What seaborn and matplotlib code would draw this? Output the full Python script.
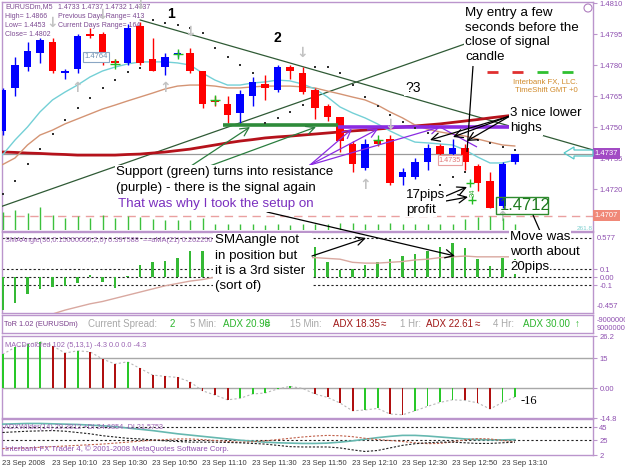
import numpy as np
import pandas as pd
import matplotlib
matplotlib.use("Agg")
import matplotlib.pyplot as plt
import seaborn as sns
from matplotlib.transforms import Affine2D, blended_transform_factory
from matplotlib.patches import Rectangle, Polygon, Circle

sns.set_theme(style="white")
plt.rcParams['font.family'] = ['Liberation Sans', 'DejaVu Sans']

# ---------------------------------------------------------------- data
time_labels = ["23 Sep 2008", "23 Sep 10:10", "23 Sep 10:30", "23 Sep 10:50", "23 Sep 11:10",
               "23 Sep 11:30", "23 Sep 11:50", "23 Sep 12:10", "23 Sep 12:30", "23 Sep 12:50",
               "23 Sep 13:10"]
time_label_bars = [0, 4, 8, 12, 16, 20, 24, 28, 32, 36, 40]

opens = [1.4748, 1.4769, 1.4779, 1.4786, 1.4791, 1.4776, 1.4778, 1.4795, 1.4795, 1.4782,
         1.4781, 1.4799, 1.4783, 1.4779, 1.4785, 1.4786, 1.4777, 1.4763, 1.4761, 1.4757,
         1.4765, 1.4771, 1.4768, 1.4779, 1.4776, 1.4768, 1.4760, 1.4755, 1.4742, 1.4730,
         1.4743, 1.4744, 1.4726, 1.4726, 1.4733, 1.4741, 1.4737, 1.4740, 1.4731, 1.4724,
         1.4712, 1.4733]
highs = [1.4769, 1.4784, 1.4791, 1.4793, 1.4793, 1.4778, 1.4795, 1.4798, 1.4796, 1.4783,
         1.4800, 1.4801, 1.4793, 1.4786, 1.4787, 1.4788, 1.4777, 1.4765, 1.4765, 1.4768,
         1.4774, 1.4775, 1.4780, 1.4780, 1.4779, 1.4769, 1.4761, 1.4755, 1.4743, 1.4744,
         1.4744, 1.4746, 1.4730, 1.4735, 1.4742, 1.4742, 1.4744, 1.4742, 1.4732, 1.4728,
         1.4733, 1.4737]
lows = [1.4746, 1.4765, 1.4777, 1.4781, 1.4776, 1.4773, 1.4776, 1.4793, 1.4780, 1.4780,
        1.4780, 1.4780, 1.4777, 1.4775, 1.4784, 1.4776, 1.4759, 1.4760, 1.4752, 1.4751,
        1.4760, 1.4763, 1.4767, 1.4773, 1.4766, 1.4754, 1.4753, 1.4738, 1.4728, 1.4729,
        1.4741, 1.4722, 1.4722, 1.4725, 1.4729, 1.4736, 1.4735, 1.4729, 1.4719, 1.4711,
        1.4711, 1.4732]
closes = [1.4768, 1.4780, 1.4787, 1.4792, 1.4777, 1.4777, 1.4794, 1.4794, 1.4781, 1.4781,
          1.4798, 1.4781, 1.4777, 1.4784, 1.4786, 1.4777, 1.4761, 1.4762, 1.4756, 1.4766,
          1.4772, 1.4769, 1.4779, 1.4777, 1.4767, 1.4759, 1.4755, 1.4743, 1.4732, 1.4742,
          1.4742, 1.4723, 1.4728, 1.4733, 1.4740, 1.4737, 1.4740, 1.4733, 1.4723, 1.4711,
          1.4732, 1.4737]
volumes = [180, 200, 170, 230, 150, 120, 140, 120, 150, 120, 140, 130, 110, 100, 100, 100,
           120, 60, 55, 60, 55, 50, 55, 50, 55, 60, 55, 70, 65, 60, 55, 70, 60, 60, 55, 55,
           60, 110, 130, 140, 120, 60]
fast_ma = [1.47365, 1.47437, 1.47500, 1.47573, 1.47631, 1.47669, 1.47703, 1.47742, 1.47771,
           1.47790, 1.47805, 1.47815, 1.47815, 1.47815, 1.47810, 1.47800, 1.47761, 1.47727,
           1.47703, 1.47703, 1.47713, 1.47718, 1.47727, 1.47723, 1.47708, 1.47684, 1.47645,
           1.47597, 1.47568, 1.47544, 1.47515, 1.47481, 1.47452, 1.47427, 1.47423, 1.47418,
           1.47413, 1.47389, 1.47355, 1.47326, 1.47326, 1.47340]
mid_ma = [1.47318, 1.47350, 1.47413, 1.47461, 1.47485, 1.47515, 1.47539, 1.47563, 1.47587,
          1.47606, 1.47626, 1.47645, 1.47664, 1.47684, 1.47698, 1.47703, 1.47703, 1.47698,
          1.47689, 1.47689, 1.47694, 1.47698, 1.47698, 1.47698, 1.47694, 1.47689, 1.47674,
          1.47660, 1.47645, 1.47631, 1.47606, 1.47573, 1.47544, 1.47510, 1.47490, 1.47476,
          1.47466, 1.47456, 1.47442, 1.47427, 1.47413, 1.47408]
slow_ma = [1.47379, 1.47377, 1.47374, 1.47372, 1.47369, 1.47367, 1.47364, 1.47364, 1.47364,
           1.47364, 1.47367, 1.47369, 1.47374, 1.47379, 1.47386, 1.47393, 1.47403, 1.47413,
           1.47423, 1.47432, 1.47439, 1.47447, 1.47452, 1.47456, 1.47461, 1.47466, 1.47471,
           1.47476, 1.47481, 1.47485, 1.47490, 1.47495, 1.47500, 1.47505, 1.47510, 1.47515,
           1.47522, 1.47529, 1.47536, 1.47544, 1.47551, 1.47558]
sar = [1.47176, 1.47239, 1.47321, 1.47393, 1.47466, 1.47534, 1.47592, 1.47640, 1.47689,
       1.47727, 1.47766, 1.47785, 1.48018, 1.48003, 1.47994, 1.47979, 1.47955, 1.47882,
       1.47839, 1.47800, 1.47761, 1.47519, 1.47544, 1.47573, 1.47606, 1.47790, 1.47790,
       1.47761, 1.47703, 1.47645, 1.47602, 1.47558, 1.47524, 1.47495, 1.47471, 1.47219,
       1.47258, 1.47282, 1.47437, 1.47423, 1.47403, 1.47389]
fractal_up_bars = [6, 13, 29, 40]
fractal_up_prices = [1.47689, 1.47689, 1.47219, 1.47064]
fractal_dn_bars = [4, 8, 11, 15, 24, 31]
fractal_dn_prices = [1.48003, 1.48042, 1.48090, 1.47960, 1.47858, 1.47510]
cross_bars = [9, 14, 17, 30]
cross_prices = [1.47807, 1.47855, 1.47632, 1.47437]

price_ticks = [1.4810, 1.4795, 1.4780, 1.4765, 1.4750, 1.4735, 1.4720]
bid_price = 1.4737
level_price = 1.4707

# trader's drawn lines (bar index, price)
desc_line_bars, desc_line_prices = [11.0, 47.24], [1.48018, 1.47389]
asc_line_bars, asc_line_prices = [-0.2, 37.0], [1.47113, 1.47902]
support_bars, support_price = [17.6, 26.8], 1.47510
resist_bars, resist_price = [26.8, 40.6], 1.47500

sma_angle = [-0.42, -0.33, -0.22, -0.15, -0.12, -0.11, -0.08, 0.03, -0.06, -0.14, 0.02, 0.15,
             0.20, 0.21, 0.25, 0.33, 0.33, 0.35, 0.36, 0.38, 0.40, 0.42, 0.44, 0.45, 0.42,
             0.38, 0.19, 0.09, 0.10, 0.15, 0.19, 0.23, 0.27, 0.30, 0.33, 0.39, 0.44, 0.37,
             0.23, 0.14, 0.24, 0.40]
sma_angle_ma = [-0.75, -0.68, -0.61, -0.55, -0.47, -0.42, -0.38, -0.34, -0.31, -0.27, -0.23,
                -0.19, -0.15, -0.11, -0.08, -0.05, -0.03, 0.00, 0.04, 0.08, 0.12, 0.16, 0.20,
                0.23, 0.25, 0.25, 0.24, 0.23, 0.19, 0.18, 0.18, 0.19, 0.20, 0.22, 0.23, 0.25,
                0.26, 0.27, 0.26, 0.26, 0.26, 0.26]
sma_levels = [0.5, 0.1, 0.0, -0.1]

macd = [17.0, 20.5, 22.0, 23.3, 21.3, 17.7, 18.8, 18.3, 14.7, 12.2, 13.3, 10.0, 6.7, 6.0, 5.5,
        3.3, -1.2, -3.3, -5.7, -5.0, -2.8, -2.3, -0.3, 1.0, 0.0, -2.8, -4.5, -7.3, -11.2,
        -10.8, -10.0, -12.8, -13.2, -11.2, -9.0, -7.0, -5.7, -6.0, -7.2, -10.3, -7.0, -4.3]
macd_levels = [15, 0]

adx = [50, 50.5, 51, 51, 50.5, 50, 49.5, 48.5, 47.5, 46, 44, 42, 40, 37.5, 35, 33, 31, 29, 27,
       25, 23.5, 22, 21, 20.5, 20, 20, 20.5, 22, 24, 26.5, 29, 31, 32.5, 32.5, 31.5, 30, 28.5,
       27, 26, 25.5, 25.5, 26]
minus_di = [37, 38, 39, 39.5, 40, 39, 37, 35, 32, 30, 28, 27, 25.5, 24, 23, 22, 22, 22, 21.5, 21,
            20, 19, 17, 15, 14.5, 14.5, 14.5, 13, 10, 7.5, 9, 13, 17, 19.5, 21, 22, 22, 21, 20,
            20, 21, 22]
plus_di = [12, 12.5, 13, 14, 15, 16, 17, 18, 19, 20.5, 22, 23.5, 25, 26, 27, 27, 26, 24.5, 23,
           22, 22.5, 24, 26, 28, 30, 31.5, 32.5, 32, 30.5, 28, 26, 24.5, 23, 21, 19.7, 20, 22.5,
           25.5, 27.5, 27, 24.5, 22]
adx_levels = [45, 25]

# ---------------------------------------------------------------- layout
W, H = 625, 469
fig = plt.figure(figsize=(W / 100, H / 100), dpi=100)
fig.patch.set_facecolor("white")
pix = Affine2D().scale(1, -1).translate(0, H)

def box(x0, y0, x1, y1, z=1):
    return fig.add_axes([x0 / W, 1 - y1 / H, (x1 - x0) / W, (y1 - y0) / H], zorder=z)

X0, X1 = 2, 593
BAR_PX, BAR0_PX = 12.5, 2.5
XL = ((X0 - BAR0_PX) / BAR_PX, (X1 - BAR0_PX) / BAR_PX)
FRAME = "#bb95cc"
LBL = "#8e4fb0"
BULL, BEAR = "#0000ff", "#ff0000"

def style(ax, ylim):
    ax.set_xlim(*XL)
    ax.set_ylim(*ylim)
    ax.set_facecolor("white")
    for s in ax.spines.values():
        s.set_color(FRAME)
        s.set_linewidth(1.0)
    ax.yaxis.tick_right()
    ax.tick_params(axis="y", which="both", length=3, width=0.8, color=FRAME, labelcolor=LBL,
                   labelsize=5.5, pad=1.5, direction="out", left=False, right=True)
    ax.tick_params(axis="x", which="both", length=0, bottom=False, labelbottom=False)
    ax.set_xlabel("")
    ax.set_ylabel("")
    ax.grid(False)

bars = np.arange(len(opens))
df = pd.DataFrame(dict(bar=bars, open=opens, high=highs, low=lows, close=closes,
                       vol=volumes, fast=fast_ma, mid=mid_ma, slow=slow_ma, sar=sar,
                       sma=sma_angle, sma_ma=sma_angle_ma, macd=macd, adx=adx,
                       pdi=plus_di, mdi=minus_di))

# ---------------------------------------------------------------- main panel
PX_PER_UNIT = 20667.0
y_top_price = 1.4810 + 1 / PX_PER_UNIT
y_bot_price = 1.4810 - 228 / PX_PER_UNIT
ax = box(X0, 2, X1, 231, z=1)

# header text (drawn under the candles)
hdr = dict(transform=pix, fontsize=5, color="#7d4a92", va="center", ha="left", zorder=1)
ax.text(5, 7, "EURUSDm,M5", **hdr)
ax.text(58, 7, "1.4733 1.4737 1.4732 1.4737", **hdr)
ax.text(5, 16, "High= 1.4866", **hdr)
ax.text(58, 16, "Previous Days Range= 413", **hdr)
ax.text(5, 25, "Low= 1.4453", **hdr)
ax.text(58, 25, "Current Days Range= 164", **hdr)
ax.text(5, 34, "Close= 1.4802", **hdr)
ax.text(578, 82, "Interbank FX, LLC.", transform=pix, fontsize=5.6, color="#d08a2a",
        ha="right", va="center", zorder=1)
ax.text(578, 90, "TimeShift GMT +0", transform=pix, fontsize=5.6, color="#d08a2a",
        ha="right", va="center", zorder=1)
for (xa, xb), col in zip([(487, 498), (512, 523), (537, 548), (562, 573)],
                         ["#e03030", "#e03030", "#30c030", "#30c030"]):
    ax.plot([xa, xb], [72, 72], transform=pix, color=col, lw=2, zorder=1, solid_capstyle="butt")

# horizontal lines
ax.axhline(bid_price, color="#9a9a9a", lw=0.9, zorder=2)
ax.axhline(level_price, color="#eaa0a0", lw=1.0, ls=(0, (6, 4)), zorder=2)

# trend lines
ax.plot(desc_line_bars, desc_line_prices, color="#2f5a35", lw=0.9, zorder=3)
ax.plot(asc_line_bars, asc_line_prices, color="#2f5a35", lw=0.9, zorder=3)

# moving averages
sns.lineplot(data=df, x="bar", y="slow", ax=ax, color="#b5121b", lw=2.0, zorder=3)
sns.lineplot(data=df, x="bar", y="mid", ax=ax, color="#d49474", lw=1.0, zorder=3)
sns.lineplot(data=df, x="bar", y="fast", ax=ax, color="#74d0d6", lw=1.0, zorder=3)

# support / resistance
ax.plot(support_bars, [support_price] * 2, color="#2e8b3a", lw=2.6, zorder=6,
        solid_capstyle="butt")
ax.plot(resist_bars, [resist_price] * 2, color="#8a2be2", lw=2.6, zorder=6,
        solid_capstyle="butt")

# candles
up = df["close"] >= df["open"]
cols = np.where(up, BULL, BEAR)
ax.vlines(df["bar"], df["low"], df["high"], colors=cols, lw=1.0, zorder=5)
body_lo = np.minimum(df["open"], df["close"])
body_h = np.maximum((df["close"] - df["open"]).abs(), 0.5 / PX_PER_UNIT * 2)
ax.bar(df["bar"], body_h, bottom=body_lo, width=0.62, color=cols, linewidth=0, zorder=5)

# parabolic SAR dots
sns.scatterplot(data=df, x="bar", y="sar", ax=ax, s=3, color="#303030", marker="s",
                linewidth=0, zorder=6)
# green crosses
ax.scatter(cross_bars, cross_prices, marker="+", s=45, color="#22bb22", linewidths=1.0, zorder=7)
# fractal arrows
for b, p in zip(fractal_up_bars, fractal_up_prices):
    ax.text(b, p, "\u2191", ha="center", va="center", fontsize=10, fontweight="bold",
            color="#c2c2c2", family="DejaVu Sans", zorder=7)
for b, p in zip(fractal_dn_bars, fractal_dn_prices):
    ax.text(b, p, "\u2193", ha="center", va="center", fontsize=10, fontweight="bold",
            color="#c2c2c2", family="DejaVu Sans", zorder=7)

style(ax, (y_bot_price, y_top_price))
ax.set_yticks(price_ticks)
ax.set_yticklabels([f"{v:.4f}" for v in price_ticks])
bt = blended_transform_factory(ax.transAxes, ax.transData)
ax.text(1.003, bid_price, "1.4737", transform=bt, fontsize=5.5, color="white", va="center",
        ha="left", bbox=dict(boxstyle="square,pad=0.25", fc="#a24bc4", ec="none"), zorder=9,
        clip_on=False)
ax.text(1.003, level_price, "1.4707", transform=bt, fontsize=5.5, color="white", va="center",
        ha="left", bbox=dict(boxstyle="square,pad=0.25", fc="#f08878", ec="none"), zorder=9,
        clip_on=False)

# volumes at the bottom of the main chart
axv = box(X0, 200, X1, 230, z=2)
axv.patch.set_alpha(0)
axv.vlines(df["bar"], 0, df["vol"], colors="#3cc03c", lw=1.0)
axv.set_xlim(*XL)
axv.set_ylim(0, 300)
axv.axis("off")

# ---------------------------------------------------------------- SMAangle panel
ax2 = box(X0, 232, X1, 313)
ax2.bar(df["bar"], df["sma"], width=0.2, color="#35b935", linewidth=0, zorder=3)
sns.lineplot(data=df, x="bar", y="sma_ma", ax=ax2, color="#d9a8a0", lw=1.0, zorder=4)
for lv in sma_levels:
    ax2.axhline(lv, color="#222222", lw=0.8, ls=(0, (2, 2)), zorder=2)
style(ax2, (-0.457, 0.577))
ax2.set_yticks([0.1, 0.0, -0.1])
ax2.set_yticklabels(["0.1", "0.00", "-0.1"])
ax2.text(5, 240, "SMAAngle(30,0.15000000,2,0) 0.397588  ==aMA(21) 0.262250", transform=pix,
         fontsize=5.3, color="#9a63b2", va="center", ha="left", zorder=5)

# ---------------------------------------------------------------- ToR panel
ax3 = box(X0, 315, X1, 333)
style(ax3, (0, 1))
ax3.set_yticks([])
tor = [(4, "ToR 1.02 (EURUSDm)", "#7a3f8c", 5.3), (88, "Current Spread:", "#a8a8a8", 7.0),
       (170, "2", "#2db52d", 7.0), (190, "5 Min:", "#a8a8a8", 7.0),
       (223, "ADX 20.98", "#2db52d", 7.0), (265, "\u2248", "#2db52d", 7.0),
       (290, "15 Min:", "#a8a8a8", 7.0), (333, "ADX 18.35", "#a01818", 7.0),
       (381, "\u2248", "#a01818", 7.0), (400, "1 Hr:", "#a8a8a8", 7.0),
       (426, "ADX 22.61", "#a01818", 7.0), (475, "\u2248", "#a01818", 7.0),
       (493, "4 Hr:", "#a8a8a8", 7.0), (523, "ADX 30.00", "#2db52d", 7.0),
       (575, "\u2191", "#2db52d", 7.0)]
for x, s, c, fs in tor:
    ax3.text(x, 324, s, transform=pix, fontsize=fs, color=c, va="center", ha="left")
ax3.text(597, 320, "-9000000", transform=pix, fontsize=5.3, color=LBL, va="center", ha="left")
ax3.text(597, 328, "9000000", transform=pix, fontsize=5.3, color=LBL, va="center", ha="left")

# ---------------------------------------------------------------- MACD panel
ax4 = box(X0, 336, X1, 418)
mcol = ["#28c828"] + ["#28c828" if b > a else "#b01010" for a, b in zip(macd[:-1], macd[1:])]
for lv in macd_levels:
    ax4.axhline(lv, color="#a8a8a8", lw=1.0, zorder=1)
ax4.bar(df["bar"], df["macd"], width=0.16, color=mcol, linewidth=0, zorder=3)
sns.lineplot(data=df, x="bar", y="macd", ax=ax4, color="#b8b8b8", lw=0.8,
             linestyle=(0, (2, 2)), zorder=2)
style(ax4, (-14.8, 26.2))
ax4.set_yticks([26.2, 15, 0, -14.8])
ax4.set_yticklabels(["26.2", "15", "0.00", "-14.8"])
ax4.text(5, 345, "MACDcolored 102 (5,13,1) -4.3 0.0 0.0 -4.3", transform=pix, fontsize=5.3,
         color="#9a63b2", va="center", ha="left")

# ---------------------------------------------------------------- ADX panel
ax5 = box(X0, 419, X1, 455)
for lv in adx_levels:
    ax5.axhline(lv, color="#222222", lw=0.8, ls=(0, (2, 2)), zorder=1)
sns.lineplot(data=df, x="bar", y="adx", ax=ax5, color="#66b8b0", lw=1.2, zorder=3)
sns.lineplot(data=df, x="bar", y="pdi", ax=ax5, color="#c0604a", lw=0.8,
             linestyle=(0, (2, 1.5)), zorder=3)
sns.lineplot(data=df, x="bar", y="mdi", ax=ax5, color="#202020", lw=0.8,
             linestyle=(0, (2, 1.5)), zorder=3)
style(ax5, (2, 58))
ax5.set_yticks([45, 25, 2])
ax5.set_yticklabels(["45", "25", "2"])
ax5.text(4, 427, "ADXWilder(14) 29.3812 +DI 24.6854 -DI 21.5753", transform=pix,
         fontsize=5.2, color="#9a63b2", va="center", ha="left", zorder=5)
ax5.text(5, 449, "Interbank FX Trader 4, \u00a9 2001-2008 MetaQuotes Software Corp.",
         transform=pix, fontsize=5.6, color="#8e4fb0", va="center", ha="left", zorder=5)
ax5.set_xticks(time_label_bars)
ax5.set_xticklabels(time_labels, ha="left")
ax5.tick_params(axis="x", bottom=True, labelbottom=True, length=0, pad=3.5, labelsize=5.5,
                labelcolor="#3a3a3a")
for lab in ax5.get_xticklabels():
    lab.set_horizontalalignment("left")

# ---------------------------------------------------------------- annotation overlay
ov = fig.add_axes([0, 0, 1, 1], zorder=20)
ov.set_xlim(0, W)
ov.set_ylim(H, 0)
ov.axis("off")
ov.patch.set_alpha(0)

WB = dict(boxstyle="square,pad=0.08", fc="white", ec="none")
AF = 9.6

def T(x, y, s, color="black", fs=AF, bb=True, **kw):
    ov.text(x, y, s, color=color, fontsize=fs, va="center", ha="left",
            bbox=WB if bb else None, **kw)

def L(x0, y0, x1, y1, color="black", lw=0.9):
    ov.plot([x0, x1], [y0, y1], color=color, lw=lw, solid_capstyle="butt")

def A(x0, y0, x1, y1, color="black", lw=0.9):
    ov.annotate("", xy=(x1, y1), xytext=(x0, y0),
                arrowprops=dict(arrowstyle="->,head_length=0.5,head_width=0.25",
                                color=color, lw=lw, shrinkA=0, shrinkB=0))

# opaque background of the pasted SMA note
ov.add_patch(Rectangle((213, 233), 99, 60, fc="white", ec="none", zorder=0))

# lines/arrows first
A(188, 168, 250, 127, "#2a7d3e")
A(196, 171, 316, 127, "#2a7d3e")
A(310, 165, 352, 129, "#8a2be2")
A(310, 165, 378, 129, "#8a2be2")
A(310, 165, 440, 127, "#8a2be2")
L(440, 127, 477, 147, "#8a2be2")
L(473, 66, 467, 152)
A(510, 116, 430, 140)
A(510, 116, 453, 137)
A(510, 116, 467, 141)
A(446, 196, 467, 187)
A(446, 201, 468, 197)
L(533, 215, 540, 231)
A(267, 212, 455, 256)
A(312, 256, 366, 238)

# small chart labels
ov.text(96, 57, "1.4764", fontsize=5.5, color="#6f8fb0", ha="center", va="center",
        bbox=dict(boxstyle="square,pad=0.2", fc="white", ec="#8aa6c4", lw=0.8))
ov.text(450, 160, "1.4735", fontsize=5.2, color="#e07878", ha="center", va="center",
        bbox=dict(boxstyle="square,pad=0.15", fc="white", ec="#e8a0a0", lw=0.8))
ov.text(473, 193, "34", fontsize=5.5, color="#33aa33", rotation=90, ha="center", va="center")
ov.scatter([472, 470], [200, 183], marker="+", s=30, color="#22bb22", linewidths=1.0)
ov.text(585, 228, "261.8", fontsize=4.6, color="#80d0d0", ha="center", va="center")
ov.add_patch(Circle((588, 8), 4, fill=False, ec="#b080c0", lw=0.8))
ov.add_patch(Polygon([(564, 153), (574, 147), (574, 150), (593, 150), (593, 156),
                      (574, 156), (574, 159)], closed=True, fill=False, ec="#55c8c8", lw=0.9))
ov.add_patch(Rectangle((496, 197), 52, 17, fill=False, ec="#2e8b2e", lw=1.0))
ov.text(500, 206, "1.4712", fontsize=12, color="#1e7a1e", ha="left", va="center")
ov.text(521, 401, "-16", fontsize=9, color="black", family="Liberation Serif",
        ha="left", va="center")
ov.text(597, 238, "0.577", fontsize=5.5, color=LBL, ha="left", va="center")
ov.text(597, 307, "-0.457", fontsize=5.5, color=LBL, ha="left", va="center")

# annotation texts
T(167, 14, "1", fs=10, fontweight="bold", bb=False)
T(273, 38, "2", fs=10, fontweight="bold", bb=False)
T(405, 88, "?3", fs=10)
for i, s in enumerate(["My entry a few", "seconds before the", "close of signal", "candle"]):
    T(465, 13 + 14.6 * i, s)
T(510, 113.5, "3 nice lower")
T(510, 128.5, "highs")
T(116, 172.5, "Support (green) turns into resistance")
T(116, 187.5, "(purple) - there is the signal again")
T(118, 204.5, "That was why I took the setup on", color="#7a2fbf")
T(406, 195, "17pips")
T(406, 210, "profit")
for i, s in enumerate(["Move was", "worth about", "20pips"]):
    T(510, 237 + 15 * i, s)
for i, s in enumerate(["SMAangle not", "in position but", "it is a 3rd sister", "(sort of)"]):
    T(215, 240.5 + 15.3 * i, s)

fig.savefig("out.png", dpi=100, facecolor="white")
